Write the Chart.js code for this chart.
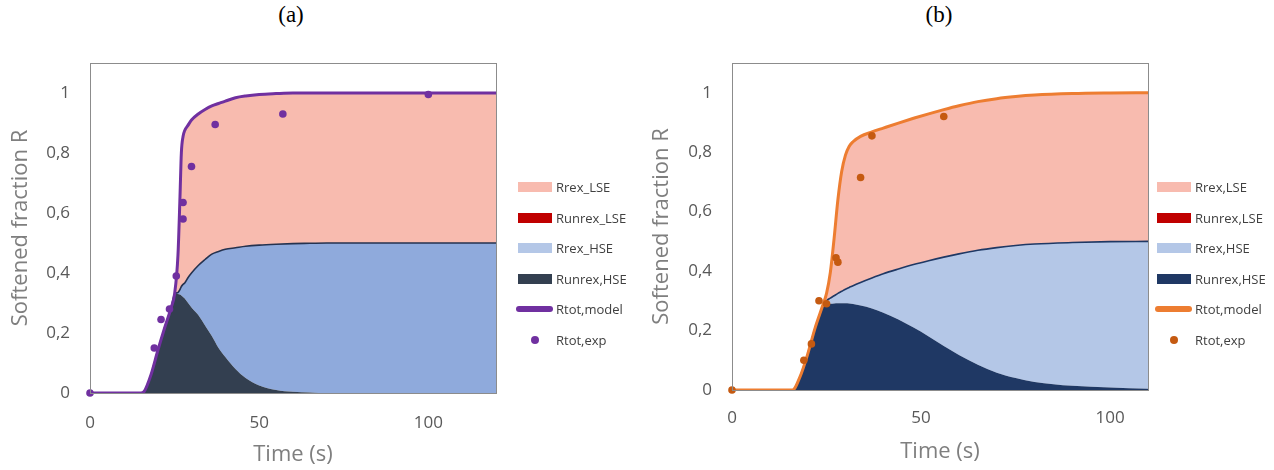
<!DOCTYPE html>
<html>
<head>
<meta charset="utf-8">
<script src="https://cdn.jsdelivr.net/npm/chart.js@4.4.1/dist/chart.umd.min.js"></script>
<style>
  body { margin: 0; background: #fff; width: 1274px; height: 470px; position: relative; overflow: hidden; font-family: "Open Sans", sans-serif; }
  canvas { position: absolute; top: 0; }
  .tag { position: absolute; top: 2px; font: 23px "Liberation Serif", serif; color: #000; transform: translateX(-50%); }
  .legend { position: absolute; font-size: 13px; color: #404040; }
  .legend .row { position: absolute; left: 0; height: 20px; display: flex; align-items: center; white-space: nowrap; }
  .sw.box { width: 34px; height: 10px; margin-right: 4px; }
  .sw.line { width: 37px; height: 6px; border-radius: 3px; margin-left: -2px; margin-right: 3px; }
  .sw.dot { width: 8px; height: 8px; border-radius: 50%; margin-left: 13px; margin-right: 17px; }
</style>
</head>
<body>
<div class="tag" style="left:291px">(a)</div>
<div class="tag" style="left:939px">(b)</div>
<canvas id="chartA" width="637" height="470" style="left:0"></canvas>
<canvas id="chartB" width="637" height="470" style="left:637px"></canvas>
<script>
// ---- panel (a) ----
const timeA = [0, 10, 15, 16, 18, 20, 22, 24, 25, 26, 26.6, 27, 27.5, 28, 29, 30, 32, 34, 36, 38, 40, 43, 46, 50, 55, 60, 65, 70, 80, 90, 100, 110, 120];
const runrexHseA = [0, 0, 0, 0.005, 0.06, 0.14, 0.215, 0.285, 0.33, 0.33, 0.328, 0.325, 0.32, 0.315, 0.30, 0.285, 0.26, 0.225, 0.19, 0.15, 0.12, 0.08, 0.05, 0.025, 0.01, 0.004, 0.002, 0, 0, 0, 0, 0, 0];
const rrexHseA = [0, 0, 0, 0, 0, 0, 0, 0, 0, 0.005, 0.017, 0.03, 0.042, 0.052, 0.085, 0.115, 0.165, 0.22, 0.273, 0.322, 0.359, 0.404, 0.439, 0.468, 0.486, 0.494, 0.497, 0.5, 0.5, 0.5, 0.5, 0.5, 0.5];
const runrexLseA = [0, 0, 0, 0, 0, 0, 0, 0, 0, 0, 0, 0, 0, 0, 0, 0, 0, 0, 0, 0, 0, 0, 0, 0, 0, 0, 0, 0, 0, 0, 0, 0, 0];
const rrexLseA = [0, 0, 0, 0, 0, 0, 0, 0, 0, 0.125, 0.31, 0.445, 0.493, 0.508, 0.508, 0.51, 0.505, 0.5, 0.494, 0.493, 0.494, 0.5, 0.501, 0.502, 0.502, 0.502, 0.501, 0.5, 0.5, 0.5, 0.5, 0.5, 0.5];
const rtotModelA = [0, 0, 0, 0.005, 0.06, 0.14, 0.215, 0.285, 0.33, 0.46, 0.655, 0.8, 0.855, 0.875, 0.893, 0.91, 0.93, 0.945, 0.957, 0.965, 0.973, 0.984, 0.99, 0.995, 0.998, 1, 1, 1, 1, 1, 1, 1, 1];
const expTimeA = [0, 19, 21, 23.5, 25.5, 27.5, 27.5, 30, 37, 57, 100];
const expValA = [0, 0.15, 0.245, 0.28, 0.39, 0.58, 0.635, 0.755, 0.895, 0.93, 0.995];
const labelsA = ["Rrex_LSE", "Runrex_LSE", "Rrex_HSE", "Runrex,HSE", "Rtot,model", "Rtot,exp"];

// ---- panel (b) ----
const timeB = [0, 10, 16, 18, 20, 22, 24, 25, 26, 27, 28, 29, 30, 31, 32, 34, 37, 40, 44, 48, 52, 56, 60, 65, 70, 75, 80, 90, 100, 110];
const runrexHseB = [0, 0, 0, 0.045, 0.12, 0.21, 0.28, 0.29, 0.29, 0.291, 0.292, 0.292, 0.292, 0.291, 0.289, 0.284, 0.274, 0.26, 0.237, 0.21, 0.18, 0.148, 0.118, 0.085, 0.058, 0.04, 0.027, 0.014, 0.008, 0.004];
const rrexHseB = [0, 0, 0, 0, 0, 0, 0, 0.01, 0.019, 0.026, 0.033, 0.04, 0.047, 0.054, 0.062, 0.078, 0.103, 0.131, 0.17, 0.212, 0.255, 0.299, 0.34, 0.385, 0.421, 0.446, 0.464, 0.482, 0.491, 0.496];
const runrexLseB = [0, 0, 0, 0, 0, 0, 0, 0, 0, 0, 0, 0, 0, 0, 0, 0, 0, 0, 0, 0, 0, 0, 0, 0, 0, 0, 0, 0, 0, 0];
const rrexLseB = [0, 0, 0, 0, 0, 0, 0.005, 0.025, 0.086, 0.193, 0.315, 0.403, 0.451, 0.475, 0.484, 0.491, 0.491, 0.49, 0.491, 0.492, 0.494, 0.496, 0.498, 0.5, 0.501, 0.501, 0.501, 0.501, 0.5, 0.5];
const rtotModelB = [0, 0, 0, 0.045, 0.12, 0.21, 0.285, 0.325, 0.395, 0.51, 0.64, 0.735, 0.79, 0.82, 0.835, 0.853, 0.868, 0.881, 0.898, 0.914, 0.929, 0.943, 0.956, 0.97, 0.98, 0.987, 0.992, 0.997, 0.999, 1];
const expTimeB = [0, 19, 21, 23, 25, 27.5, 28, 34, 37, 56];
const expValB = [0, 0.10, 0.155, 0.30, 0.29, 0.445, 0.43, 0.715, 0.855, 0.92];
const labelsB = ["Rrex,LSE", "Runrex,LSE", "Rrex,HSE", "Runrex,HSE", "Rtot,model", "Rtot,exp"];

const yTicks = [0, 0.2, 0.4, 0.6, 0.8, 1];

const salmon = "#F8BBAF";
const red = "#C00000";
const paleBlue = "#B4C7E7";

function pts(xs, ys) {
  return xs.map((x, i) => ({ x: x, y: ys[i] }));
}

// grey plot-area border like the Excel frame
const framePlugin = {
  id: "frame",
  afterDraw(chart) {
    const a = chart.chartArea;
    const ctx = chart.ctx;
    ctx.save();
    ctx.strokeStyle = "#8c8c8c";
    ctx.lineWidth = 1;
    ctx.strokeRect(Math.round(a.left) + 0.5, Math.round(a.top) + 0.5, Math.round(a.right - a.left), Math.round(a.bottom - a.top));
    ctx.restore();
  }
};

function makePanel(id, p) {
  const area = (label, data, color, legendColor, fill, order, extra) => Object.assign({
    label: label, data: data, backgroundColor: color, borderColor: color, borderWidth: 0,
    fill: fill, order: order, stack: "areas", pointRadius: 0, cubicInterpolationMode: "monotone",
    legendColor: legendColor, swatch: "box"
  }, extra || {});
  const datasets = [
    area(p.labels[0], pts(p.time, p.rrexLse), salmon, salmon, "+1", 4),
    area(p.labels[1], pts(p.time, p.runrexLse), red, red, "+1", 3),
    area(p.labels[2], pts(p.time, p.rrexHse), p.blue, paleBlue, "+1", 2, { borderColor: p.edge, borderWidth: 1.6 }),
    area(p.labels[3], pts(p.time, p.runrexHse), p.dark, p.dark, "origin", 1),
    {
      label: p.labels[4], data: pts(p.time, p.total), borderColor: p.line, backgroundColor: p.line,
      borderWidth: 3, pointRadius: 0, fill: false, order: 0, stack: "model",
      cubicInterpolationMode: "monotone", legendColor: p.line, swatch: "line"
    },
    {
      label: p.labels[5], data: pts(p.expTime, p.expVal), showLine: false, borderColor: p.dot,
      backgroundColor: p.dot, pointRadius: 3.8, pointBorderWidth: 0, order: -1, stack: "exp",
      clip: false, legendColor: p.dot, swatch: "dot"
    }
  ];
  const chart = new Chart(document.getElementById(id), {
    type: "line",
    data: { datasets: datasets },
    plugins: [framePlugin],
    options: {
      responsive: false,
      animation: false,
      layout: { padding: { left: 0, right: p.padRight, top: 63, bottom: 0 } },
      plugins: { legend: { display: false }, tooltip: { enabled: false } },
      scales: {
        x: {
          type: "linear", min: 0, max: p.xMax,
          grid: { display: false, drawTicks: false }, border: { display: false },
          ticks: { stepSize: 50, includeBounds: false, color: "#595959", padding: p.xTickPad, font: { family: "Open Sans", size: 17 } },
          title: { display: true, text: "Time (s)", color: "#7f7f7f", font: { family: "Open Sans", size: 22 }, padding: { top: 0, bottom: p.xTitlePad } },
          afterFit: s => { s.height = p.xHeight; }
        },
        y: {
          stacked: true, min: 0, max: 1.1,
          grid: { display: false, drawTicks: false }, border: { display: false },
          afterBuildTicks: s => { s.ticks = yTicks.map(v => ({ value: v })); },
          ticks: {
            color: "#595959", padding: 20, font: { family: "Open Sans", size: 17 },
            callback: v => String(Math.round(v * 10) / 10).replace(".", ",")
          },
          title: { display: true, text: "Softened fraction R", color: "#7f7f7f", font: { family: "Open Sans", size: 22 }, padding: { top: p.yTitlePad, bottom: 0 } },
          afterFit: s => { s.width = p.yWidth; }
        }
      }
    }
  });
  buildLegend(chart, p.legendLeft, p.legendTop, p.legendStep);
  return chart;
}

function buildLegend(chart, left, top, step) {
  const box = document.createElement("div");
  box.className = "legend";
  box.style.left = left + "px";
  box.style.top = top + "px";
  chart.data.datasets.forEach((ds, i) => {
    const row = document.createElement("div");
    row.className = "row";
    row.style.top = (i * step - 10) + "px";
    const sw = document.createElement("span");
    sw.className = "sw " + ds.swatch;
    sw.style.background = ds.legendColor;
    row.appendChild(sw);
    const txt = document.createElement("span");
    txt.textContent = ds.label;
    row.appendChild(txt);
    box.appendChild(row);
  });
  document.body.appendChild(box);
}

makePanel("chartA", {
  time: timeA, rrexLse: rrexLseA, runrexLse: runrexLseA, rrexHse: rrexHseA, runrexHse: runrexHseA,
  total: rtotModelA, expTime: expTimeA, expVal: expValA, labels: labelsA,
  blue: "#8FAADC", edge: "#25324f", dark: "#333F50", line: "#7030A0", dot: "#7030A0",
  xMax: 120, padRight: 141, yWidth: 90, xHeight: 77, xTickPad: 20, xTitlePad: 2, yTitlePad: 8,
  legendLeft: 518, legendTop: 187, legendStep: 30.6
});

makePanel("chartB", {
  time: timeB, rrexLse: rrexLseB, runrexLse: runrexLseB, rrexHse: rrexHseB, runrexHse: runrexHseB,
  total: rtotModelB, expTime: expTimeB, expVal: expValB, labels: labelsB,
  blue: "#B4C7E7", edge: "#1F3864", dark: "#1F3864", line: "#ED7D31", dot: "#C55A11",
  xMax: 110, padRight: 126, yWidth: 95, xHeight: 80, xTickPad: 18, xTitlePad: 5, yTitlePad: 12,
  legendLeft: 1157, legendTop: 187, legendStep: 30.5
});
</script>
</body>
</html>
